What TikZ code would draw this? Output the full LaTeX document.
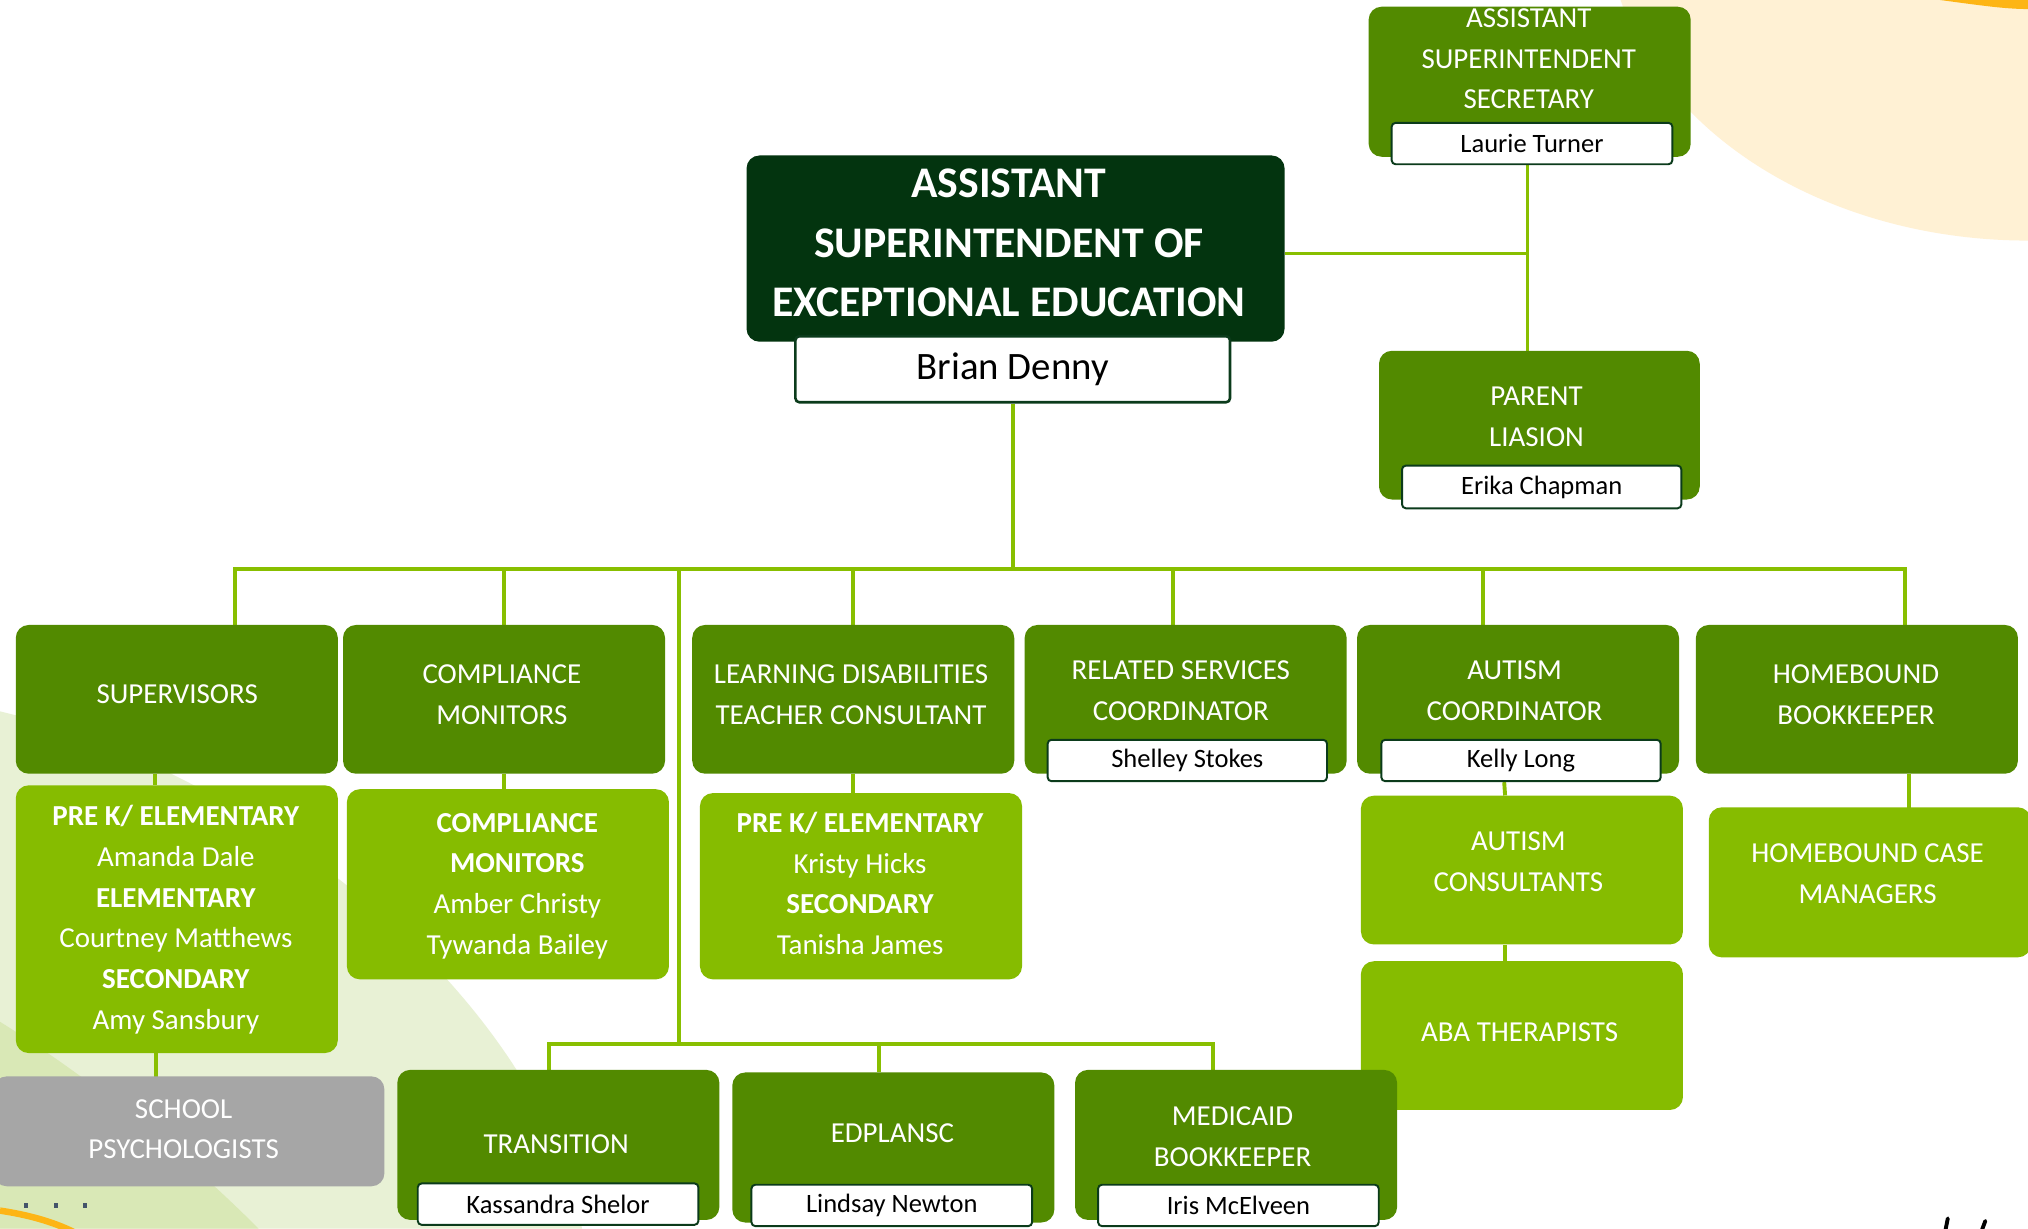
\documentclass[tikz,border=0pt]{standalone}
\usepackage{fontspec}
\setmainfont{Carlito}
\usetikzlibrary{backgrounds,calc}

\definecolor{dkgreen}{HTML}{528A00}
\definecolor{ltgreen}{HTML}{86BC00}
\definecolor{topgreen}{HTML}{03340F}
\definecolor{lnkgreen}{HTML}{88BF00}
\definecolor{nameline}{HTML}{0B3B1B}
\definecolor{psgray}{HTML}{A6A6A6}
\definecolor{cream}{HTML}{FFF1D4}
\definecolor{orng}{HTML}{FDB515}
\definecolor{pale}{HTML}{E8F1D5}
\definecolor{paledark}{HTML}{D9E8B6}
\definecolor{dotblue}{HTML}{44546A}

\begin{document}
\begin{tikzpicture}[x=1pt,y=-1pt,
	box/.style={rectangle,rounded corners=10pt,fill=dkgreen,inner sep=0pt,minimum width=249pt,minimum height=115pt,anchor=north west},
	light/.style={box,fill=ltgreen},
	who/.style={rectangle,rounded corners=3pt,fill=white,draw=nameline,line width=1.5pt,inner sep=0pt,minimum width=217pt,minimum height=32pt,font=\fontsize{20.5}{24}\selectfont},
	txt/.style={text=white,align=center,inner sep=0pt,font=\fontsize{22.4}{31.5}\selectfont},
	link/.style={draw=lnkgreen,line width=3pt}]
	\useasboundingbox (0,0) rectangle (1568,950);

	% head of the department
	\node[box,fill=topgreen,minimum width=416pt,minimum height=144pt] (ase) at (577,120) {};
	\node[txt,font=\fontsize{33.8}{46}\selectfont\bfseries] (ase-t) at (780,188) {ASSISTANT\\SUPERINTENDENT OF\\EXCEPTIONAL EDUCATION};
	\node[who,minimum width=336pt,minimum height=51pt,line width=2pt,font=\fontsize{30}{36}\selectfont] (bd) at (783,285.5) {Brian Denny};

	% right hand side
	\node[box,minimum height=116pt] (sec) at (1058,5) {};
	\node[txt] (sec-t) at (1182,45.5) {ASSISTANT\\SUPERINTENDENT\\SECRETARY};
	\node[who] (sec-n) at (1184.5,111) {Laurie Turner};
	\node[box,minimum width=248pt] (par) at (1066,271) {};
	\node[txt] (par-t) at (1188,322.5) {PARENT\\LIASION};
	\node[who,minimum width=216pt,minimum height=33pt] (par-n) at (1192,376.5) {Erika Chapman};

	% first row
	\node[box] (sup) at (12,483) {};
	\node[txt] (sup-t) at (137,537) {SUPERVISORS};
	\node[box] (comp) at (265,483) {};
	\node[txt] (comp-t) at (388,537) {COMPLIANCE\\MONITORS};
	\node[box] (ld) at (535,483) {};
	\node[txt] (ld-t) at (658,537) {LEARNING DISABILITIES\\TEACHER CONSULTANT};
	\node[box] (rel) at (792,483) {};
	\node[txt] (rel-t) at (913,534) {RELATED SERVICES\\COORDINATOR};
	\node[who,minimum width=216pt] (rel-n) at (918,588) {Shelley Stokes};
	\node[box] (aut) at (1049,483) {};
	\node[txt] (aut-t) at (1171,534) {AUTISM\\COORDINATOR};
	\node[who,minimum width=216pt] (aut-n) at (1176,588) {Kelly Long};
	\node[box] (hb) at (1311,483) {};
	\node[txt] (hb-t) at (1435,537) {HOMEBOUND\\BOOKKEEPER};

	% staff under them
	\node[light,minimum height=207pt] (sup-s) at (12,607) {};
	\node[txt] (sup-st) at (136,711) {\textbf{PRE K/ ELEMENTARY}\\Amanda Dale\\\textbf{ELEMENTARY}\\Courtney Matthews\\\textbf{SECONDARY}\\Amy Sansbury};
	\node[light,minimum height=147pt] (comp-s) at (268,610) {};
	\node[txt] (comp-st) at (400,685) {\textbf{COMPLIANCE}\\\textbf{MONITORS}\\Amber Christy\\Tywanda Bailey};
	\node[light,minimum height=144pt] (ld-s) at (541,613) {};
	\node[txt] (ld-st) at (665,683) {\textbf{PRE K/ ELEMENTARY}\\Kristy Hicks\\\textbf{SECONDARY}\\Tanisha James};
	\node[light] (aut-c) at (1052,615) {};
	\node[txt] (aut-ct) at (1174,666.5) {AUTISM\\CONSULTANTS};
	\node[light] (aba) at (1052,743) {};
	\node[txt] (aba-t) at (1175,798) {ABA THERAPISTS};
	\node[light,minimum height=116pt] (hb-c) at (1321,624) {};
	\node[txt] (hb-ct) at (1444,675.5) {HOMEBOUND CASE\\MANAGERS};

	% bottom row
	\node[box,fill=psgray,minimum width=302pt,minimum height=85pt] (psy) at (-5,832) {};
	\node[txt] (psy-t) at (142,873) {SCHOOL\\PSYCHOLOGISTS};
	\node[box,minimum height=116pt] (trans) at (307,827) {};
	\node[txt] (trans-t) at (430,885) {TRANSITION};
	\node[who] (trans-n) at (431.5,931) {Kassandra Shelor};
	\node[box,minimum height=116pt] (edp) at (566,829) {};
	\node[txt] (edp-t) at (690,876) {EDPLANSC};
	\node[who] (edp-n) at (689.5,932) {Lindsay Newton};
	\node[box,minimum height=116pt] (med) at (831,827) {};
	\node[txt] (med-t) at (953,879) {MEDICAID\\BOOKKEEPER};
	\node[who] (med-n) at (957.5,932) {Iris McElveen};

	\begin{scope}[on background layer]
		\fill[white] (0,0) rectangle (1568,950);
		% page decoration
		\fill[cream] (1253,0) .. controls (1290,110) and (1420,186) .. (1568,186) -- (1568,0) -- cycle;
		\fill[orng] (1500,0) .. controls (1530,4) and (1550,7) .. (1568,7) -- (1568,0) -- cycle;
		\fill[pale] (0,550) .. controls (210,600) and (420,780) .. (450,950) -- (0,950) -- cycle;
		\fill[paledark] (0,790) .. controls (80,840) and (150,900) .. (200,950) -- (0,950) -- cycle;
		\draw[orng,line width=5pt] (0,936) .. controls (20,939) and (40,944) .. (58,953);
		\foreach \x in {20,43,66}
			\fill[dotblue] (\x-1.6,930.4) rectangle (\x+1.6,933.6);
		\draw[line width=3pt,line cap=round] (1506,942) -- (1504,952) (1535,944) -- (1532,952);

		% connectors
		\coordinate (bus) at ($(bd.south)+(0,128)$);
		\coordinate (lowbus) at (525,807);
		\coordinate (junc) at (1181,196);
		\draw[link] (bd.south) -- (bus);
		\draw[link] (bus) -| ($(sup.north)+(45,0)$);
		\draw[link] (bus) -| (comp.north);
		\draw[link] (bus) -| (ld.north);
		\draw[link] (bus) -| ($(rel.north)+(-10,0)$);
		\draw[link] (bus) -| ($(aut.north)+(-27,0)$);
		\draw[link] (bus) -| ($(hb.north)+(37,0)$);
		\draw[link] (bus) -| (lowbus);
		\draw[link] (lowbus) -| ($(trans.north)+(-7,0)$);
		\draw[link] (lowbus) -| ($(edp.north)+(-11,0)$);
		\draw[link] (lowbus) -| ($(med.north)+(-18,0)$);
		\draw[link] (ase.east |- junc) -- (junc);
		\draw[link] (sec-n.south -| junc) -- (par.north -| junc);
		\draw[link] ($(sup.south)+(-17,0)$) -- ($(sup-s.north)+(-17,0)$);
		\draw[link] (comp.south) -- (comp.south |- comp-s.north);
		\draw[link] (ld.south) -- (ld.south |- ld-s.north);
		\draw[link] ($(aut-n.south)+(-13,0)$) -- ($(aut-c.north)+(-13,0)$);
		\draw[link] ($(aut-c.south)+(-13,0)$) -- ($(aba.north)+(-13,0)$);
		\draw[link] ($(hb.south)+(40,0)$) -- ($(hb.south)+(40,26)$);
		\draw[link] ($(sup-s.south)+(-16,0)$) -- ($(sup-s.south)+(-16,18)$);
	\end{scope}
\end{tikzpicture}
\end{document}
